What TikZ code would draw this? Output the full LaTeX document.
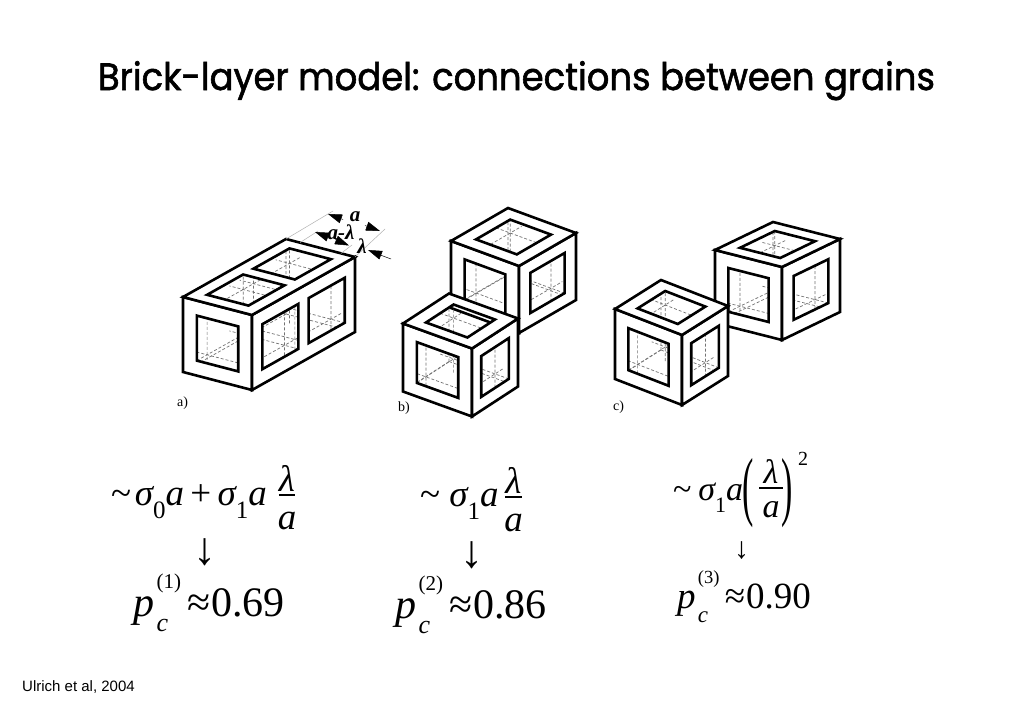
\documentclass[tikz,border=0pt]{standalone}
\usepackage{fontspec}
\usepackage{graphicx}
\setmainfont{Liberation Serif}
\newfontfamily\titlefont[FakeBold=1.6]{Poppins}
\newfontfamily\footfont{Liberation Sans}
\usetikzlibrary{arrows.meta}

% p_c^{(n)} ~ value ; #1 sup size, #2 sub size, #3 n, #4 value
\newcommand{\pcline}[4]{{\itshape p}\hspace{0.06em}\rlap{\raisebox{0.66em}{\fontsize{#1}{#1}\selectfont(#3)}}\raisebox{-0.38em}{\fontsize{#2}{#2}\selectfont\itshape c}\hspace{0.45em}≈\hspace{0.03em}#4}
\newcommand{\sgm}[2]{{\itshape σ}\raisebox{-0.36em}{\fontsize{#1}{#1}\selectfont #2}{\itshape a}}

\tikzset{
  cubeface/.style={draw=black, fill=white, even odd rule, line width=2.6pt, line join=miter, miter limit=3},
  hid/.style={draw=black!55, line width=0.7pt, dash pattern=on 3pt off 2pt},
  extline/.style={draw=gray!60, line width=0.5pt},
  dimarrow/.style={-{Triangle[length=14pt,width=9pt]}, line width=0.5pt},
  dimlbl/.style={inner sep=0pt, font=\fontsize{21}{23}\selectfont\bfseries\itshape},
  lbl/.style={inner sep=0pt, font=\fontsize{14}{16}\selectfont},
  ftext/.style={inner sep=0pt, anchor=base west, font=\fontsize{37}{44}\selectfont},
  ftextsmall/.style={inner sep=0pt, anchor=base west, font=\fontsize{34}{40}\selectfont},
  fpart/.style={inner sep=0pt, anchor=base, font=\fontsize{37}{44}\selectfont\itshape},
  fpartsmall/.style={inner sep=0pt, anchor=base, font=\fontsize{34}{40}\selectfont\itshape},
  fracbar/.style={line width=1.2pt},
  pline/.style={inner sep=0pt, anchor=base west, font=\fontsize{42}{48}\selectfont},
  plinesmall/.style={inner sep=0pt, anchor=base west, font=\fontsize{37}{44}\selectfont},
  darrow/.style={inner sep=0pt, font=\fontsize{46}{50}\selectfont},
}

\newcommand{\cubedashes}{%
  \draw[hid] (1,1,0)--(1,1,1) (1,1,0)--(0,1,0) (1,1,0)--(1,0,0);
  \foreach \p in {0.2,0.8}{\foreach \q in {0.2,0.8}{%
    \draw[hid] (\p,\q,0)--(\p,\q,1) (0,\p,\q)--(1,\p,\q) (\p,0,\q)--(\p,1,\q);}}%
}
\newcommand{\cubefaces}{%
  \path[cubeface] (0,0,0)--(0,1,0)--(0,1,1)--(0,0,1)--cycle (0,0.2,0.2)--(0,0.8,0.2)--(0,0.8,0.8)--(0,0.2,0.8)--cycle;
  \path[cubeface] (0,0,0)--(1,0,0)--(1,0,1)--(0,0,1)--cycle (0.2,0,0.2)--(0.8,0,0.2)--(0.8,0,0.8)--(0.2,0,0.8)--cycle;
  \path[cubeface] (0,0,1)--(1,0,1)--(1,1,1)--(0,1,1)--cycle (0.2,0.2,1)--(0.8,0.2,1)--(0.8,0.8,1)--(0.2,0.8,1)--cycle;
}
% #1,#2: pixel position of the front-bottom vertex; #3,#4: X vector; #5,#6: Y vector; #7: height
\newcommand{\hollowcube}[7]{%
  \begin{scope}[shift={(#1,#2)}, x={(#3pt,#4pt)}, y={(#5pt,#6pt)}, z={(0pt,#7pt)}]
    \cubedashes
    \cubefaces
  \end{scope}%
}

\begin{document}
\begin{tikzpicture}[x=1pt, y=-1pt]
\useasboundingbox (0,0) rectangle (1024,723);
\fill[white] (0,0) rectangle (1024,723);

% ---------- title ----------
\node[anchor=base, inner sep=0pt, font=\titlefont\fontsize{38}{44}\selectfont] (title) at (516.5,90)
  {\resizebox{837pt}{\height}{Brick-layer model: connections between grains}};

% ---------- a) brick ----------
\begin{scope}[shift={(252,390)}, x={(51.5pt,29pt)}, y={(-69pt,18pt)}, z={(0pt,75pt)}]
  \draw[hid] (2,1,0)--(2,1,1) (2,1,0)--(0,1,0) (2,1,0)--(2,0,0);
  \foreach \p in {0.2,0.9,1.1,1.8}{\foreach \q in {0.2,0.8}{%
    \draw[hid] (\p,\q,0)--(\p,\q,1) (\p,0,\q)--(\p,1,\q);}}
  \foreach \p in {0.2,0.8}{\foreach \q in {0.2,0.8}{%
    \draw[hid] (0,\p,\q)--(2,\p,\q);}}
  \path[cubeface] (0,0,0)--(0,1,0)--(0,1,1)--(0,0,1)--cycle
    (0,0.2,0.2)--(0,0.8,0.2)--(0,0.8,0.8)--(0,0.2,0.8)--cycle;
  \path[cubeface] (0,0,0)--(2,0,0)--(2,0,1)--(0,0,1)--cycle
    (0.2,0,0.2)--(0.9,0,0.2)--(0.9,0,0.8)--(0.2,0,0.8)--cycle
    (1.1,0,0.2)--(1.8,0,0.2)--(1.8,0,0.8)--(1.1,0,0.8)--cycle;
  \path[cubeface] (0,0,1)--(2,0,1)--(2,1,1)--(0,1,1)--cycle
    (0.2,0.2,1)--(0.9,0.2,1)--(0.9,0.8,1)--(0.2,0.8,1)--cycle
    (1.1,0.2,1)--(1.8,0.2,1)--(1.8,0.8,1)--(1.1,0.8,1)--cycle;
\end{scope}

% dimension marks of a)
\draw[extline] (286,239)--(333,211);
\draw[extline] (300,242.6)--(318,231);
\draw[extline] (341,253.4)--(352,245);
\draw[extline] (355,257)--(385,229);
\coordinate (A1) at (328,214);  \coordinate (A1t) at (343,219.5);
\coordinate (A2) at (380,231);  \coordinate (A2t) at (365,225.5);
\coordinate (B1) at (315,232);  \coordinate (B1t) at (328,237);
\coordinate (B2) at (349,245.5);\coordinate (B2t) at (335,239.5);
\coordinate (C2) at (368,250);  \coordinate (C2t) at (383,256);
\coordinate (C2e) at (391,259);
\draw[dimarrow] (A1t)--(A1);
\draw[dimarrow] (A2t)--(A2);
\draw[dimarrow] (B1t)--(B1);
\draw[dimarrow] (B2t)--(B2);
\draw[dimarrow] (C2t)--(C2);
\draw[line width=0.5pt] (C2t)--(C2e);
\node[dimlbl] (la) at (355,217) {a};
\node[dimlbl] (lal) at (341,232) {a-λ};
\node[dimlbl] (ll) at (362,246) {λ};

% ---------- b) ----------
\hollowcube{519}{333}{57}{33}{-68}{25}{67}
\hollowcube{472}{416.5}{46}{30}{-69}{25}{68}

% ---------- c) ----------
\hollowcube{782}{340}{58}{28}{-67}{17}{73}
\hollowcube{682}{405}{46}{29}{-67}{26}{70}

% ---------- panel labels ----------
\node[lbl, anchor=base west] (pa) at (177,406) {a)};
\node[lbl, anchor=base west] (pb) at (398,411) {b)};
\node[lbl, anchor=base west] (pc) at (613,410) {c)};

% ---------- formula 1 ----------
\node[ftext] (f1) at (111,505) {\textasciitilde\hspace{0.1em}\sgm{25}{0}\hspace{0.17em}+\hspace{0.17em}\sgm{25}{1}};
\node[fpart] (f1n) at (287,491) {λ};
\node[fpart] (f1d) at (287,529) {a};
\draw[fracbar] (f1n.south west |- 0,495) -- (f1n.south east |- 0,495);
\node[darrow] (d1) at (205,552) {↓};
\node[pline] (p1) at (133,616) {\pcline{21}{26}{1}{0.69}};

% ---------- formula 2 ----------
\node[ftext] (f2) at (420,506) {\textasciitilde\hspace{0.25em}\sgm{25}{1}};
\node[fpart] (f2n) at (513.5,493) {λ};
\node[fpart] (f2d) at (513.5,531) {a};
\draw[fracbar] (f2n.south west |- 0,497) -- (f2n.south east |- 0,497);
\node[darrow] (d2) at (471.7,555) {↓};
\node[pline] (p2) at (395,618) {\pcline{21}{26}{2}{0.86}};

% ---------- formula 3 ----------
\node[ftextsmall] (f3) at (673,500) {\textasciitilde\hspace{0.2em}\sgm{22}{1}};
\node[inner sep=0pt, font=\fontsize{34}{34}\selectfont] (lp) at (748,493) {\scalebox{1}[2.25]{(}};
\node[fpartsmall] (f3n) at (771,483) {λ};
\node[fpartsmall] (f3d) at (771,517) {a};
\draw[fracbar] (759,488) -- (783,488);
\node[inner sep=0pt, font=\fontsize{34}{34}\selectfont] (rp) at (787,493) {\scalebox{1}[2.25]{)}};
\node[inner sep=0pt, anchor=base west, font=\fontsize{20}{20}\selectfont] (sq) at (798,465) {2};
\node[darrow, font=\fontsize{30}{34}\selectfont] (d3) at (741.7,551) {↓};
\node[plinesmall] (p3) at (677,608) {\pcline{18.5}{23}{3}{0.90}};

% ---------- reference ----------
\node[anchor=base west, inner sep=0pt, font=\footfont\fontsize{15}{18}\selectfont] (ref) at (22,691) {Ulrich et al, 2004};
\end{tikzpicture}
\end{document}
